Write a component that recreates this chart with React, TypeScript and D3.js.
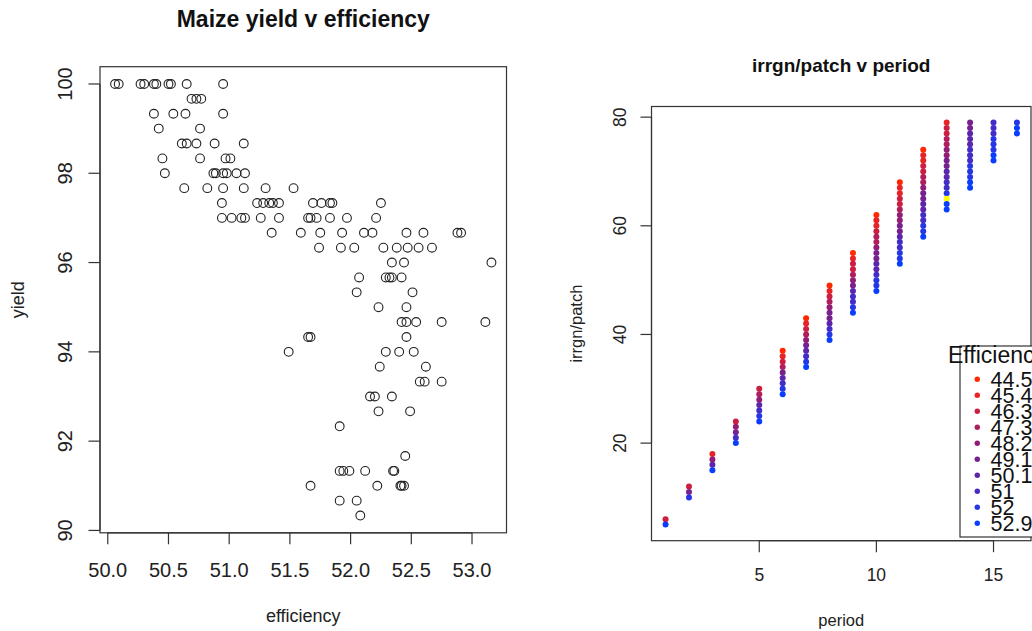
import { useEffect, useRef } from 'react';
import * as d3 from 'd3';

// left panel: maize yield rows, each with the efficiencies plotted on that row
const yieldRows = [
  100, 99.667, 99.333, 99, 98.667, 98.333, 98, 97.667, 97.333, 97, 96.667, 96.333, 96, 95.667,
  95.333, 95, 94.667, 94.333, 94, 93.667, 93.333, 93, 92.667, 92.333, 91.667, 91.333, 91, 90.667,
  90.333,
];
const effRows = [
  [50.06, 50.09, 50.27, 50.3, 50.38, 50.4, 50.5, 50.52, 50.65, 50.95],
  [50.69, 50.73, 50.77],
  [50.38, 50.54, 50.64, 50.95],
  [50.42, 50.76],
  [50.61, 50.65, 50.73, 50.88, 51.12],
  [50.45, 50.76, 50.97, 51.01],
  [50.47, 50.87, 50.89, 50.95, 50.98, 51.06, 51.13],
  [50.63, 50.82, 50.95, 51.12, 51.3, 51.53],
  [50.94, 51.23, 51.28, 51.33, 51.36, 51.41, 51.69, 51.76, 51.83, 51.85, 52.25],
  [50.94, 51.02, 51.1, 51.13, 51.26, 51.41, 51.65, 51.67, 51.72, 51.83, 51.97, 52.21],
  [51.35, 51.59, 51.75, 51.93, 52.11, 52.18, 52.46, 52.6, 52.88, 52.91],
  [51.74, 51.92, 52.03, 52.27, 52.38, 52.47, 52.56, 52.67],
  [52.34, 52.44, 53.16],
  [52.07, 52.29, 52.32, 52.34, 52.42],
  [52.05, 52.51],
  [52.23, 52.46],
  [52.42, 52.46, 52.54, 52.75, 53.11],
  [51.65, 51.67, 52.46],
  [51.49, 52.29, 52.4, 52.52],
  [52.24, 52.62],
  [52.57, 52.61, 52.75],
  [52.16, 52.2, 52.34],
  [52.23, 52.49],
  [51.91],
  [52.45],
  [51.91, 51.94, 51.99, 52.12, 52.35, 52.36],
  [51.67, 52.22, 52.41, 52.42, 52.44],
  [51.91, 52.05],
  [52.08],
];
const effTicks = [50, 50.5, 51, 51.5, 52, 52.5, 53];
const effTickLabels = ['50.0', '50.5', '51.0', '51.5', '52.0', '52.5', '53.0'];
const yieldTicks = [90, 92, 94, 96, 98, 100];

// right panel: irrgn/patch per period, top to bottom, with legend level of each dot (10 = yellow)
const periods = [1, 2, 3, 4, 5, 6, 7, 8, 9, 10, 11, 12, 13, 14, 15, 16];
const irrgnCols = [
  [6, 5],
  [12, 11, 10],
  [18, 17, 16, 15],
  [24, 23, 22, 21, 20],
  [30, 29, 28, 27, 26, 25, 24],
  [37, 36, 35, 34, 33, 32, 31, 30, 29],
  [43, 42, 41, 40, 39, 38, 37, 36, 35, 34],
  [49, 48, 47, 46, 45, 44, 43, 42, 41, 40, 39],
  [55, 54, 53, 52, 51, 50, 49, 48, 47, 46, 45, 44],
  [62, 61, 60, 59, 58, 57, 56, 55, 54, 53, 52, 51, 50, 49, 48],
  [68, 67, 66, 65, 64, 63, 62, 61, 60, 59, 58, 57, 56, 55, 54, 53],
  [74, 73, 72, 71, 70, 69, 68, 67, 66, 65, 64, 63, 62, 61, 60, 59, 58],
  [79, 78, 77, 76, 75, 74, 73, 72, 71, 70, 69, 68, 67, 66, 65, 64, 63],
  [79, 78, 77, 76, 75, 74, 73, 72, 71, 70, 69, 68, 67],
  [79, 78, 77, 76, 75, 74, 73, 72],
  [79, 78, 77],
];
const levelCols = [
  [2, 9],
  [2, 5, 8],
  [1, 4, 6, 9],
  [2, 4, 5, 7, 9],
  [2, 3, 4, 6, 7, 8, 9],
  [0, 1, 2, 3, 5, 6, 7, 8, 9],
  [0, 1, 2, 3, 4, 5, 6, 7, 8, 9],
  [0, 1, 2, 3, 4, 5, 5, 6, 7, 8, 9],
  [0, 1, 2, 2, 3, 4, 5, 6, 7, 7, 8, 9],
  [0, 1, 1, 2, 3, 3, 4, 5, 5, 6, 6, 7, 8, 8, 9],
  [0, 1, 1, 2, 2, 3, 4, 4, 5, 5, 6, 7, 7, 8, 8, 9],
  [0, 1, 1, 2, 2, 3, 3, 4, 5, 5, 6, 6, 7, 7, 8, 8, 9],
  [1, 2, 2, 3, 3, 4, 4, 5, 5, 6, 6, 7, 7, 8, 10, 9, 9],
  [5, 5, 6, 6, 6, 7, 7, 7, 8, 8, 8, 9, 9],
  [7, 7, 7, 8, 8, 8, 9, 9],
  [8, 9, 9],
];
const legendLabels = ['44.5', '45.4', '46.3', '47.3', '48.2', '49.1', '50.1', '51', '52', '52.9'];
const legendColors = [
  '#FF2800', '#E82325', '#CC1E40', '#B01E5C', '#921D76',
  '#77218F', '#5B26AB', '#422DC6', '#2536E4', '#0A3EFF', '#FFFF00',
];
const periodTicks = [5, 10, 15];
const irrgnTicks = [20, 40, 60, 80];

const FONT = '"Liberation Sans", Arial, sans-serif';

function App() {
  const svgRef = useRef<SVGSVGElement | null>(null);
  const width = 1032;
  const height = 631;

  useEffect(() => {
    const svg = d3.select(svgRef.current);
    svg.selectAll('*').remove();
    svg.attr('font-family', FONT);

    // ---------- left panel ----------
    const xL = d3.scaleLinear().domain([49.936, 53.284]).range([100, 506.5]);
    const yL = d3.scaleLinear().domain([89.947, 100.387]).range([532.8, 66.7]);
    const left = svg.append('g');

    left
      .append('rect')
      .attr('x', xL.range()[0])
      .attr('y', yL.range()[1])
      .attr('width', xL.range()[1] - xL.range()[0])
      .attr('height', yL.range()[0] - yL.range()[1])
      .attr('fill', 'none')
      .attr('stroke', '#333')
      .attr('stroke-width', 1.2);

    const pts = yieldRows.flatMap((yv, i) => effRows[i].map((e) => ({ e, yv })));
    left
      .append('g')
      .selectAll('circle')
      .data(pts)
      .enter()
      .append('circle')
      .attr('cx', (d) => xL(d.e))
      .attr('cy', (d) => yL(d.yv))
      .attr('r', 4.4)
      .attr('fill', 'none')
      .attr('stroke', '#222')
      .attr('stroke-width', 1.1);

    const bL = yL.range()[0];
    const xAxL = left.append('g').attr('stroke', '#333').attr('stroke-width', 1.2);
    xAxL
      .append('line')
      .attr('x1', xL(effTicks[0]))
      .attr('x2', xL(effTicks[effTicks.length - 1]))
      .attr('y1', bL)
      .attr('y2', bL);
    effTicks.forEach((t, i) => {
      xAxL.append('line').attr('x1', xL(t)).attr('x2', xL(t)).attr('y1', bL).attr('y2', bL + 11.5);
      left
        .append('text')
        .attr('x', xL(t))
        .attr('y', 577)
        .attr('text-anchor', 'middle')
        .attr('font-size', 20)
        .attr('fill', '#222')
        .text(effTickLabels[i]);
    });
    const lL = xL.range()[0];
    const yAxL = left.append('g').attr('stroke', '#333').attr('stroke-width', 1.2);
    yAxL
      .append('line')
      .attr('x1', lL)
      .attr('x2', lL)
      .attr('y1', yL(yieldTicks[0]))
      .attr('y2', yL(yieldTicks[yieldTicks.length - 1]));
    yieldTicks.forEach((t) => {
      yAxL.append('line').attr('x1', lL - 11.5).attr('x2', lL).attr('y1', yL(t)).attr('y2', yL(t));
      left
        .append('text')
        .attr('transform', `translate(72,${yL(t)}) rotate(-90)`)
        .attr('text-anchor', 'middle')
        .attr('font-size', 20)
        .attr('fill', '#222')
        .text(t);
    });
    left
      .append('text')
      .attr('x', (xL.range()[0] + xL.range()[1]) / 2)
      .attr('y', 27)
      .attr('text-anchor', 'middle')
      .attr('font-size', 23)
      .attr('font-weight', 'bold')
      .attr('fill', '#111')
      .text('Maize yield v efficiency');
    left
      .append('text')
      .attr('x', (xL.range()[0] + xL.range()[1]) / 2)
      .attr('y', 622)
      .attr('text-anchor', 'middle')
      .attr('font-size', 18)
      .attr('fill', '#222')
      .text('efficiency');
    left
      .append('text')
      .attr('transform', `translate(24,${(yL.range()[0] + yL.range()[1]) / 2}) rotate(-90)`)
      .attr('text-anchor', 'middle')
      .attr('font-size', 18)
      .attr('fill', '#222')
      .text('yield');

    // ---------- right panel ----------
    const xR = d3.scaleLinear().domain([0.4, 16.6]).range([651.5, 1031]);
    const yR = d3.scaleLinear().domain([2.04, 81.96]).range([540.7, 106.5]);
    const right = svg.append('g');

    right
      .append('rect')
      .attr('x', xR.range()[0])
      .attr('y', yR.range()[1])
      .attr('width', xR.range()[1] - xR.range()[0])
      .attr('height', yR.range()[0] - yR.range()[1])
      .attr('fill', 'none')
      .attr('stroke', '#333')
      .attr('stroke-width', 1.2);

    const dots = periods.flatMap((p, i) =>
      irrgnCols[i].map((v, j) => ({ p, v, lv: levelCols[i][j] }))
    );
    right
      .append('g')
      .selectAll('circle')
      .data(dots)
      .enter()
      .append('circle')
      .attr('cx', (d) => xR(d.p))
      .attr('cy', (d) => yR(d.v))
      .attr('r', 3)
      .attr('fill', (d) => legendColors[d.lv]);

    const bR = yR.range()[0];
    const xAxR = right.append('g').attr('stroke', '#333').attr('stroke-width', 1.2);
    xAxR
      .append('line')
      .attr('x1', xR(periodTicks[0]))
      .attr('x2', xR(periodTicks[periodTicks.length - 1]))
      .attr('y1', bR)
      .attr('y2', bR);
    periodTicks.forEach((t) => {
      xAxR.append('line').attr('x1', xR(t)).attr('x2', xR(t)).attr('y1', bR).attr('y2', bR + 11.5);
      right
        .append('text')
        .attr('x', xR(t))
        .attr('y', 581)
        .attr('text-anchor', 'middle')
        .attr('font-size', 17.5)
        .attr('fill', '#222')
        .text(t);
    });
    const lR = xR.range()[0];
    const yAxR = right.append('g').attr('stroke', '#333').attr('stroke-width', 1.2);
    yAxR
      .append('line')
      .attr('x1', lR)
      .attr('x2', lR)
      .attr('y1', yR(irrgnTicks[0]))
      .attr('y2', yR(irrgnTicks[irrgnTicks.length - 1]));
    irrgnTicks.forEach((t) => {
      yAxR.append('line').attr('x1', lR - 11).attr('x2', lR).attr('y1', yR(t)).attr('y2', yR(t));
      right
        .append('text')
        .attr('transform', `translate(626,${yR(t)}) rotate(-90)`)
        .attr('text-anchor', 'middle')
        .attr('font-size', 17.5)
        .attr('fill', '#222')
        .text(t);
    });
    right
      .append('text')
      .attr('x', (xR.range()[0] + xR.range()[1]) / 2)
      .attr('y', 72)
      .attr('text-anchor', 'middle')
      .attr('font-size', 19)
      .attr('font-weight', 'bold')
      .attr('fill', '#111')
      .text('irrgn/patch v period');
    right
      .append('text')
      .attr('x', (xR.range()[0] + xR.range()[1]) / 2)
      .attr('y', 626)
      .attr('text-anchor', 'middle')
      .attr('font-size', 16.5)
      .attr('fill', '#222')
      .text('period');
    right
      .append('text')
      .attr('transform', `translate(582,${(yR.range()[0] + yR.range()[1]) / 2}) rotate(-90)`)
      .attr('text-anchor', 'middle')
      .attr('font-size', 16.5)
      .attr('fill', '#222')
      .text('irrgn/patch');

    // legend, clipped by the right edge of the page as in the original
    const legend = right.append('g');
    legend
      .append('rect')
      .attr('x', 960)
      .attr('y', 346)
      .attr('width', 100)
      .attr('height', 191)
      .attr('fill', 'white')
      .attr('stroke', '#333')
      .attr('stroke-width', 1.2);
    legend
      .append('text')
      .attr('x', 948)
      .attr('y', 363)
      .attr('font-size', 23)
      .attr('fill', '#111')
      .text('Efficiency');
    legendLabels.forEach((lab, i) => {
      const cy = 379.3 + i * 16;
      legend.append('circle').attr('cx', 977.3).attr('cy', cy).attr('r', 2.7).attr('fill', legendColors[i]);
      legend
        .append('text')
        .attr('x', 990.5)
        .attr('y', cy + 7.6)
        .attr('font-size', 21.5)
        .attr('fill', '#111')
        .text(lab);
    });
  }, []);

  return (
    <svg
      ref={svgRef}
      width={width}
      height={height}
      style={{ position: 'absolute', left: 0, top: 0, background: 'white' }}
    />
  );
}

export default App;
